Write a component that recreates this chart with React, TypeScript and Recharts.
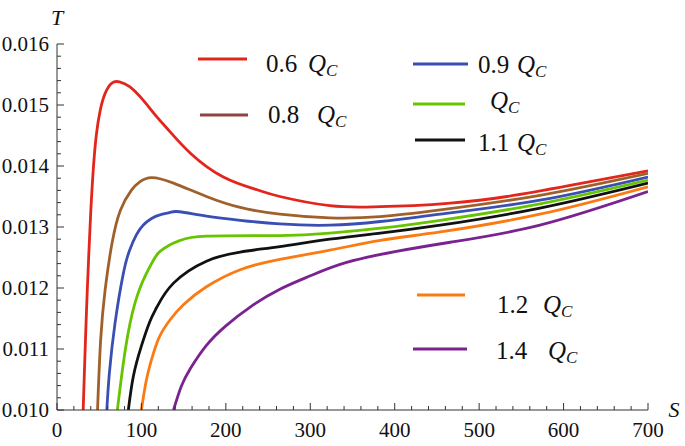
import React from 'react';
import { LineChart, Line, XAxis, YAxis } from 'recharts';

// S (entropy) and T (temperature)
const sQ06 = [31, 33, 35, 37.5, 40, 43, 46.5, 51, 57, 65, 74, 86, 102, 118, 134, 158, 197, 237, 264, 323, 375, 422, 466, 533, 611, 700];
const tQ06 = [0.0100, 0.01085, 0.01165, 0.0125, 0.01325, 0.01395, 0.0145, 0.0149, 0.01519, 0.01536, 0.01538, 0.0153, 0.01508, 0.01481, 0.01456, 0.01421, 0.01382, 0.01361, 0.0135, 0.01335, 0.01333, 0.01335, 0.01339, 0.0135, 0.01369, 0.01392];

const sQ08 = [48, 51.7, 57, 65, 75, 88, 98, 112, 138, 177, 217, 264, 323, 383, 454, 572, 700];
const tQ08 = [0.0100, 0.01115, 0.01197, 0.01272, 0.01327, 0.0136, 0.01374, 0.01381, 0.01372, 0.0135, 0.01332, 0.01321, 0.01315, 0.01317, 0.01328, 0.01352, 0.01388];

const sQ09 = [59, 62, 68.7, 78.6, 86, 94, 102, 112, 122, 134, 145, 177, 217, 264, 323, 383, 454, 572, 700];
const tQ09 = [0.0100, 0.0106, 0.01142, 0.01224, 0.01262, 0.01287, 0.01303, 0.01314, 0.0132, 0.01324, 0.01325, 0.01318, 0.01311, 0.01305, 0.01303, 0.01309, 0.01321, 0.01344, 0.01382];

const sQ10 = [71.5, 78.6, 86.5, 98.3, 114, 122, 134, 146, 177, 264, 323, 383, 454, 572, 700];
const tQ10 = [0.0100, 0.01077, 0.01142, 0.012, 0.01245, 0.0126, 0.01271, 0.01278, 0.01285, 0.01286, 0.0129, 0.01298, 0.01311, 0.01338, 0.01377];

const sQ11 = [84.5, 90.4, 100, 110, 118, 138, 177, 217, 264, 323, 383, 454, 572, 700];
const tQ11 = [0.0100, 0.01055, 0.01105, 0.01145, 0.01168, 0.01208, 0.01244, 0.01259, 0.01268, 0.0128, 0.0129, 0.01303, 0.01331, 0.01372];

const sQ12 = [100, 106, 114, 122, 134, 150, 177, 217, 264, 323, 383, 454, 572, 700];
const tQ12 = [0.0100, 0.0105, 0.01092, 0.01122, 0.01148, 0.01173, 0.01202, 0.0123, 0.01247, 0.01262, 0.01278, 0.01292, 0.01321, 0.01366];

const sQ14 = [138, 147, 158, 177, 200, 230, 264, 300, 343, 402, 466, 572, 700];
const tQ14 = [0.0100, 0.01038, 0.01068, 0.01106, 0.01138, 0.0117, 0.01198, 0.0122, 0.01242, 0.0126, 0.01275, 0.01303, 0.01358];

const xTicks = [0, 20, 40, 60, 80, 100, 120, 140, 160, 180, 200, 220, 240, 260, 280, 300, 320, 340, 360, 380, 400, 420, 440, 460, 480, 500, 520, 540, 560, 580, 600, 620, 640, 660, 680, 700];
const yTicks = [0.010, 0.0102, 0.0104, 0.0106, 0.0108, 0.011, 0.0112, 0.0114, 0.0116, 0.0118, 0.012, 0.0122, 0.0124, 0.0126, 0.0128, 0.013, 0.0132, 0.0134, 0.0136, 0.0138, 0.014, 0.0142, 0.0144, 0.0146, 0.0148, 0.015, 0.0152, 0.0154, 0.0156, 0.0158, 0.016];

const toPoints = (s: number[], t: number[]) => s.map((v, i) => ({ s: v, t: t[i] }));

const series = [
  { key: 'q06', prefix: '0.6', color: '#e2261c', legendColor: '#e2261c', data: toPoints(sQ06, tQ06) },
  { key: 'q08', prefix: '0.8', color: '#a0602a', legendColor: '#8e4541', data: toPoints(sQ08, tQ08) },
  { key: 'q09', prefix: '0.9', color: '#3a4fb3', legendColor: '#3a4fb3', data: toPoints(sQ09, tQ09) },
  { key: 'q10', prefix: '', color: '#67c400', legendColor: '#67c400', data: toPoints(sQ10, tQ10) },
  { key: 'q11', prefix: '1.1', color: '#111111', legendColor: '#111111', data: toPoints(sQ11, tQ11) },
  { key: 'q12', prefix: '1.2', color: '#fb7a12', legendColor: '#fb7a12', data: toPoints(sQ12, tQ12) },
  { key: 'q14', prefix: '1.4', color: '#7a2290', legendColor: '#7a2290', data: toPoints(sQ14, tQ14) },
];

// where each legend entry sits (line start/end, number x, Q x, baseline)
const legendLayout: Record<string, { x1: number; x2: number; ly: number; nx: number; qx: number; by: number }> = {
  q06: { x1: 198, x2: 247, ly: 59, nx: 266, qx: 308, by: 72 },
  q08: { x1: 200, x2: 248, ly: 115, nx: 268, qx: 317, by: 123 },
  q09: { x1: 413, x2: 468, ly: 64, nx: 478, qx: 517, by: 73 },
  q10: { x1: 413, x2: 465, ly: 104, nx: 0, qx: 490, by: 109 },
  q11: { x1: 415, x2: 465, ly: 140, nx: 478, qx: 517, by: 151 },
  q12: { x1: 417, x2: 465, ly: 295, nx: 497, qx: 543, by: 313 },
  q14: { x1: 413, x2: 467, ly: 349, nx: 496, qx: 548, by: 359 },
};

const AXIS = '#333';
const txt = { fontFamily: "'Liberation Serif'" };

const isMajorY = (v: number) => Math.abs(v * 1000 - Math.round(v * 1000)) < 1e-6;
const isMajorX = (v: number) => v % 100 === 0;

const YTick = (props: any) => {
  const { x, y, payload } = props;
  const major = isMajorY(payload.value);
  return (
    <g>
      <line x1={x} x2={x + (major ? 7 : 4)} y1={y} y2={y} stroke={AXIS} strokeWidth={1} />
      {major && (
        <text x={x - 8} y={y} dy="0.35em" textAnchor="end" style={txt} fontSize={21} fill="#111">
          {payload.value.toFixed(3)}
        </text>
      )}
    </g>
  );
};

const XTick = (props: any) => {
  const { x, y, payload } = props;
  const major = isMajorX(payload.value);
  return (
    <g>
      <line x1={x} x2={x} y1={y} y2={y - (major ? 7 : 4)} stroke={AXIS} strokeWidth={1} />
      {major && (
        <text x={x} y={y + 27} textAnchor="middle" style={txt} fontSize={21} fill="#111">
          {payload.value}
        </text>
      )}
    </g>
  );
};

export default function App() {
  return (
    <div style={{ position: 'absolute', left: 0, top: 0, width: 685, height: 446, background: '#fff' }}>
      <LineChart width={685} height={446} margin={{ top: 44, right: 37, bottom: 0, left: 0 }}>
        <XAxis
          type="number"
          dataKey="s"
          domain={[0, 700]}
          ticks={xTicks}
          interval={0}
          tick={XTick}
          tickLine={false}
          tickSize={0}
          tickMargin={0}
          height={36}
          axisLine={{ stroke: AXIS }}
          allowDataOverflow
        />
        <YAxis
          type="number"
          dataKey="t"
          domain={[0.01, 0.016]}
          ticks={yTicks}
          interval={0}
          tick={YTick}
          tickLine={false}
          tickSize={0}
          tickMargin={0}
          width={57}
          axisLine={{ stroke: AXIS }}
          allowDataOverflow
        />
        {series.map((sr) => (
          <Line
            key={sr.key}
            data={sr.data}
            dataKey="t"
            type="natural"
            stroke={sr.color}
            strokeWidth={2.8}
            dot={false}
            activeDot={false}
            isAnimationActive={false}
          />
        ))}
      </LineChart>
      <svg width={685} height={446} style={{ position: 'absolute', left: 0, top: 0, pointerEvents: 'none' }}>
        <text x={57} y={25} textAnchor="middle" style={txt} fontStyle="italic" fontSize={22} fill="#111">T</text>
        <text x={674} y={417} textAnchor="middle" style={txt} fontStyle="italic" fontSize={22} fill="#111">S</text>
        {series.map((sr) => {
          const l = legendLayout[sr.key];
          return (
            <g key={sr.key}>
              <line x1={l.x1} x2={l.x2} y1={l.ly} y2={l.ly} stroke={sr.legendColor} strokeWidth={3} />
              {sr.prefix && (
                <text x={l.nx} y={l.by} style={txt} fontSize={25} fill="#111">{sr.prefix}</text>
              )}
              <text x={l.qx} y={l.by} style={txt} fontSize={25} fontStyle="italic" fill="#111">
                Q<tspan fontSize={17} dy={4}>C</tspan>
              </text>
            </g>
          );
        })}
      </svg>
    </div>
  );
}
